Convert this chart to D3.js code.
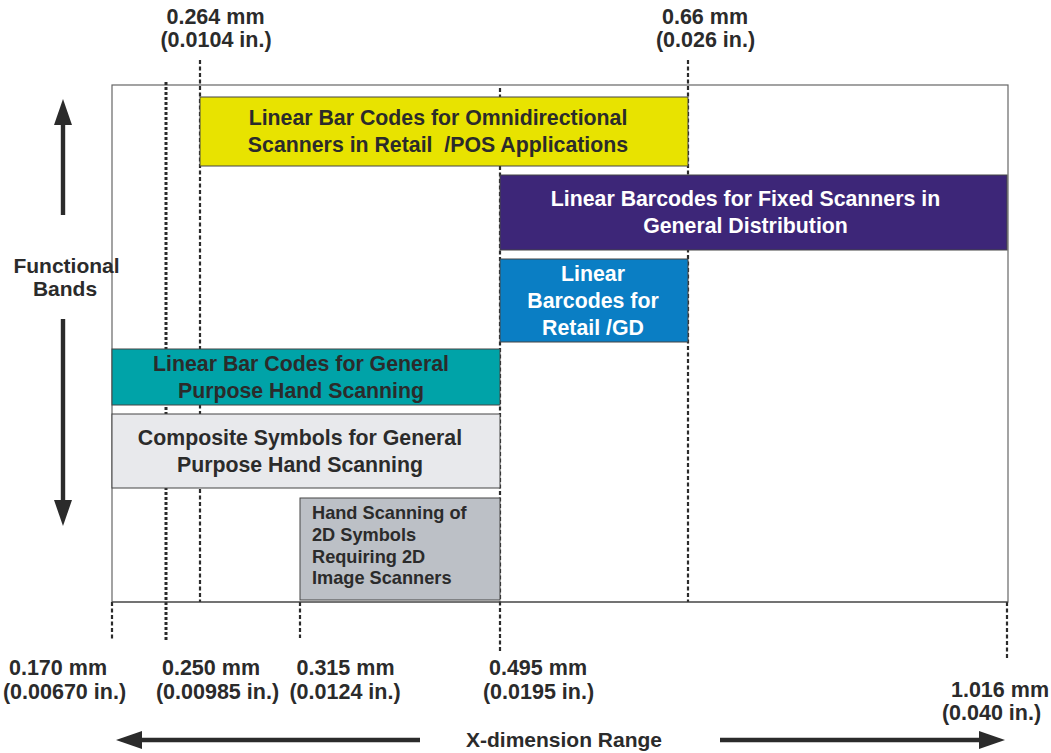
<!DOCTYPE html>
<html>
<head>
<meta charset="utf-8">
<script src="https://cdn.jsdelivr.net/npm/d3@7"></script>
<style>
  body { margin: 0; background: #fff; }
  text { font-family: "Liberation Sans", Arial, sans-serif; font-weight: bold; fill: #2b2b2b; }
</style>
</head>
<body>
<div id="chart"></div>
<script>
// X-dimension marks (mm), their inch equivalents and where the label sits
const tickMM = [0.170, 0.250, 0.264, 0.315, 0.495, 0.66, 1.016];
const tickMMLabel = ["0.170", "0.250", "0.264", "0.315", "0.495", "0.66", "1.016"];
const tickInLabel = ["0.00670", "0.00985", "0.0104", "0.0124", "0.0195", "0.026", "0.040"];
const tickSide = ["bottom", "bottom", "top", "bottom", "bottom", "top", "bottom"];

// Functional bands
const bandNames = [
  ["Linear Bar Codes for Omnidirectional", "Scanners in Retail  /POS Applications"],
  ["Linear Barcodes for Fixed Scanners in", "General Distribution"],
  ["Linear", "Barcodes for", "Retail /GD"],
  ["Linear Bar Codes for General", "Purpose Hand Scanning"],
  ["Composite Symbols for General", "Purpose Hand Scanning"],
  ["Hand Scanning of", "2D Symbols", "Requiring 2D", "Image Scanners"]
];
const bandStart = [0.264, 0.495, 0.495, 0.170, 0.170, 0.315];
const bandEnd = [0.66, 1.016, 0.66, 0.495, 0.495, 0.495];
const bandColor = ["#e8e300", "#3d2678", "#0a7ec4", "#00a3a8", "#e8e9ec", "#bcc0c6"];
const bandText = ["#2b2b2b", "#ffffff", "#ffffff", "#2b2b2b", "#2b2b2b", "#2b2b2b"];

const width = 1051, height = 753;

const svg = d3.select("#chart").append("svg")
    .attr("width", width)
    .attr("height", height);

// Uneven spacing of the marks: a piecewise linear scale
const x = d3.scaleLinear()
    .domain(tickMM)
    .range([112, 166, 200, 300, 500, 688, 1007]);

// Row layout (top, bottom) for each band, and text nudge
const rowTop = [97, 175, 259, 349, 414, 498];
const rowBottom = [166, 250, 342, 405, 488, 600];
const textDx = [-6, -8, -1, -5, -6, 0];

const frame = { left: 112, top: 85, right: 1008, bottom: 602 };

// frame
svg.append("rect")
    .attr("x", frame.left).attr("y", frame.top)
    .attr("width", frame.right - frame.left)
    .attr("height", frame.bottom - frame.top)
    .attr("fill", "none")
    .attr("stroke", "#666").attr("stroke-width", 1.2);

// dashed guides (behind the bands)
const guideTop = [602, 82, 60, 602, 88, 60, 602];
const guideBottom = [640, 640, 602, 638, 652, 602, 660];
svg.append("g").selectAll("line")
    .data(tickMM)
    .join("line")
      .attr("x1", d => x(d)).attr("x2", d => x(d))
      .attr("y1", (d, i) => guideTop[i])
      .attr("y2", (d, i) => guideBottom[i])
      .attr("stroke", "#2b2b2b")
      .attr("stroke-width", (d, i) => i === 1 ? 3 : 2.2)
      .attr("stroke-dasharray", (d, i) => i === 1 ? "3,2" : "4,2.5");

// bands
const bands = svg.append("g").selectAll("g")
    .data(bandNames.map((n, i) => ({ lines: n, i })))
    .join("g");

bands.append("rect")
    .attr("x", d => x(bandStart[d.i]))
    .attr("y", d => rowTop[d.i])
    .attr("width", d => x(bandEnd[d.i]) - x(bandStart[d.i]))
    .attr("height", d => rowBottom[d.i] - rowTop[d.i])
    .attr("fill", d => bandColor[d.i])
    .attr("stroke", "#444").attr("stroke-width", 1);

bands.each(function(d) {
  const g = d3.select(this);
  const small = d.i === 5;
  const lh = small ? 21.7 : 27;
  const cx = small ? x(bandStart[d.i]) + 12 : (x(bandStart[d.i]) + x(bandEnd[d.i])) / 2 + textDx[d.i];
  const cy = (rowTop[d.i] + rowBottom[d.i]) / 2 + (small ? -3.5 : 0);
  const y0 = cy - (d.lines.length - 1) * lh / 2;
  g.selectAll("text")
    .data(d.lines)
    .join("text")
      .attr("x", cx)
      .attr("y", (t, j) => y0 + j * lh)
      .attr("dy", "0.35em")
      .attr("text-anchor", small ? "start" : "middle")
      .style("font-size", small ? "18.2px" : "21.3px")
      .style("fill", bandText[d.i])
      .style("white-space", "pre")
      .text(t => t);
});

// bottom axis line
svg.append("line")
    .attr("x1", frame.left).attr("x2", frame.right)
    .attr("y1", frame.bottom).attr("y2", frame.bottom)
    .attr("stroke", "#444").attr("stroke-width", 1.2);

// tick labels
const label1X = [58, 211, 215.5, 345.5, 538, 705, 1000];
const label2X = [64.5, 217.5, 216, 345, 538.5, 705.5, 991.5];
const label1Y = [675, 675, 23.5, 675, 675, 23.5, 696.7];
const labels = svg.append("g").selectAll("text")
    .data(tickMM)
    .join("text")
      .attr("text-anchor", "middle")
      .style("font-size", "21.5px");
labels.append("tspan")
    .attr("x", (d, i) => label1X[i])
    .attr("y", (d, i) => label1Y[i])
    .text((d, i) => tickMMLabel[i] + " mm");
labels.append("tspan")
    .attr("x", (d, i) => label2X[i])
    .attr("dy", 23.5)
    .text((d, i) => "(" + tickInLabel[i] + " in.)");

// arrows
function arrow(x1, y1, x2, y2) {
  const ang = Math.atan2(y2 - y1, x2 - x1);
  const headLen = 26, headW = 9, shaft = 2.2;
  const bx = x2 - headLen * Math.cos(ang), by = y2 - headLen * Math.sin(ang);
  const px = -Math.sin(ang), py = Math.cos(ang);
  svg.append("line")
    .attr("x1", x1).attr("y1", y1).attr("x2", bx).attr("y2", by)
    .attr("stroke", "#2b2b2b").attr("stroke-width", shaft * 2);
  svg.append("polygon")
    .attr("points", [[x2, y2], [bx + px * headW, by + py * headW], [bx - px * headW, by - py * headW]].join(" "))
    .attr("fill", "#2b2b2b");
}
arrow(63, 215, 63, 99);
arrow(63, 319, 63, 526);
arrow(420, 740, 116, 740);
arrow(720, 740, 1005, 740);

// axis titles
svg.append("text")
    .attr("text-anchor", "middle")
    .style("font-size", "21px")
    .selectAll("tspan")
    .data(["Functional", "Bands"])
    .join("tspan")
      .attr("x", (d, i) => i === 0 ? 66.5 : 65)
      .attr("y", (d, i) => 273 + i * 22.5)
      .text(d => d);

svg.append("text")
    .attr("x", 564).attr("y", 746.5)
    .attr("text-anchor", "middle")
    .style("font-size", "21px")
    .text("X-dimension Range");
</script>
</body>
</html>
